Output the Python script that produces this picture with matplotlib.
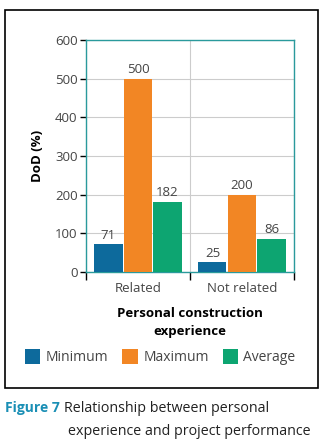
import matplotlib.pyplot as plt
from matplotlib.patches import Rectangle
import numpy as np

plt.rcParams['font.family'] = ['Open Sans', 'DejaVu Sans']

# data
groups = ['Related', 'Not related']
series = ['Minimum', 'Maximum', 'Average']
minimum = [71, 25]
maximum = [500, 200]
average = [182, 86]
colors = ['#0d6a9c', '#f28624', '#0da571']

fig = plt.figure(figsize=(3.27, 4.48), dpi=100)
ax = fig.add_axes([0.263, 0.393, 0.636, 0.518])

x = np.arange(len(groups))
w = 0.27
off = 0.284
text_c = '#444444'
for i, (vals, c) in enumerate(zip([minimum, maximum, average], colors)):
    bars = ax.bar(x + (i - 1) * off, vals, w, color=c, label=series[i], zorder=3)
    for b, v in zip(bars, vals):
        ax.text(b.get_x() + b.get_width() / 2, v + 6, str(v), ha='center',
                va='bottom', fontsize=9.5, color=text_c)

ax.set_xlim(-0.5, 1.5)
ax.set_ylim(0, 600)
ax.set_yticks(range(0, 601, 100))
ax.set_xticks([-0.5, 0.5, 1.5])
ax.set_xticklabels([])
ax.set_xticks(x, minor=True)
ax.set_xticklabels(groups, minor=True)
ax.tick_params(axis='x', which='major', direction='out', length=6, width=1, color='black')
ax.tick_params(axis='x', which='minor', length=0, labelsize=9.5, labelcolor=text_c, pad=7)
ax.tick_params(axis='y', length=4, width=1, color='black', labelsize=9.5, labelcolor=text_c, pad=2)
ax.grid(True, which='major', color='#cccccc', linewidth=0.8, zorder=0)
for s in ax.spines.values():
    s.set_color('#2a9a9c')
    s.set_linewidth(1)

ax.set_ylabel('DoD (%)', fontsize=9.5, fontweight='bold', labelpad=8)
ax.set_xlabel('Personal construction\nexperience', fontsize=9.5, fontweight='bold', labelpad=9,
              linespacing=1.5)

fig.legend(loc='center', bbox_to_anchor=(0.49, 0.203), ncol=3, frameon=False,
           fontsize=10, handlelength=1.1, handleheight=1.3, columnspacing=1.0,
           handletextpad=0.4, labelcolor=text_c)

fig.patches.append(Rectangle((0.0153, 0.134), 0.957, 0.844, transform=fig.transFigure,
                             fill=False, edgecolor='black', linewidth=1.2))

fig.text(0.015, 0.089, 'Figure 7', fontsize=10, fontweight='bold', color='#1a8fb5',
         va='center')
fig.text(0.197, 0.089, 'Relationship between personal', fontsize=10.3, va='center',
         color='#222222')
fig.text(0.208, 0.036, 'experience and project performance', fontsize=10.3, va='center',
         color='#222222')

plt.savefig('out.png', dpi=100)
